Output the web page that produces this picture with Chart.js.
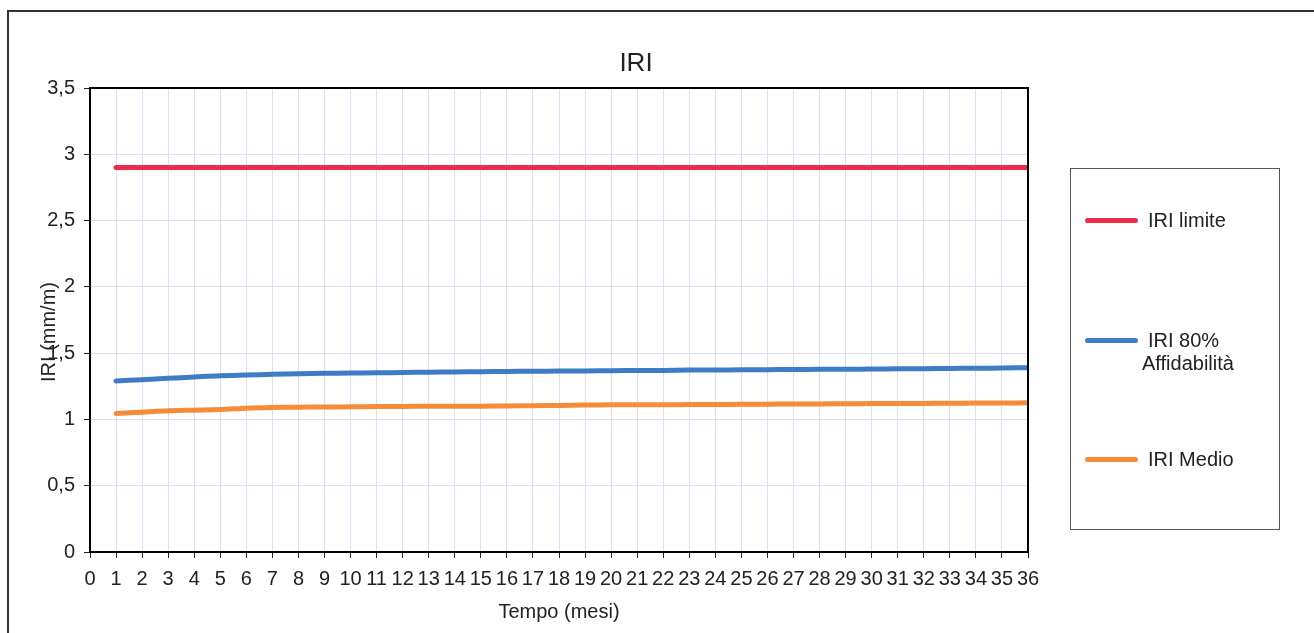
<!DOCTYPE html>
<html lang="it">
<head>
  <meta charset="UTF-8">
  <title>IRI</title>
  <style>
    body { margin: 0; background: #fff; font-family: "Liberation Sans", Arial, sans-serif; color: #222; }
    #wrap { position: relative; width: 1314px; height: 633px; overflow: hidden; }
    #frame { position: absolute; left: 7px; top: 10px; width: 1330px; height: 640px; border-left: 2px solid #333; border-top: 2px solid #333; }
    #grafico { position: absolute; left: 0; top: 0; }
    #legenda { position: absolute; left: 1070px; top: 168px; width: 210px; height: 362px; border: 1px solid #555; box-sizing: border-box; }
    .voce { position: absolute; left: 14px; display: flex; align-items: flex-start; font-size: 20px; line-height: 23px; }
    .campione { width: 53px; height: 5px; border-radius: 3px; margin-top: 9px; margin-right: 10px; }
    .testo span { display: block; }
    .testo span + span { margin-left: -6px; }
  </style>
  <script src="https://cdn.jsdelivr.net/npm/chart.js"></script>
</head>
<body>
  <div id="wrap">
    <div id="frame"></div>
    <canvas id="grafico" width="1314" height="633"></canvas>
    <div id="legenda"></div>
  </div>
  <script>
    // dati
    const mesi = [1,2,3,4,5,6,7,8,9,10,11,12,13,14,15,16,17,18,19,20,21,22,23,24,25,26,27,28,29,30,31,32,33,34,35,36];
    const iriLimite = [2.9,2.9,2.9,2.9,2.9,2.9,2.9,2.9,2.9,2.9,2.9,2.9,2.9,2.9,2.9,2.9,2.9,2.9,
                       2.9,2.9,2.9,2.9,2.9,2.9,2.9,2.9,2.9,2.9,2.9,2.9,2.9,2.9,2.9,2.9,2.9,2.9];
    const iri80 = [1.29,1.30,1.31,1.32,1.33,1.335,1.34,1.345,1.348,1.35,1.352,1.354,1.356,1.358,1.36,1.362,1.363,1.365,
                   1.366,1.368,1.369,1.37,1.372,1.373,1.374,1.375,1.377,1.378,1.379,1.38,1.382,1.383,1.385,1.386,1.388,1.39];
    const iriMedio = [1.045,1.055,1.065,1.07,1.075,1.085,1.09,1.092,1.094,1.095,1.097,1.098,1.099,1.1,1.1,1.102,1.104,1.106,
                      1.108,1.11,1.11,1.111,1.112,1.113,1.114,1.115,1.116,1.117,1.118,1.12,1.12,1.121,1.122,1.123,1.124,1.125];
    const serie = [
      { nome: ['IRI limite'], valori: iriLimite, colore: '#ec2d4a', yLegenda: 220 },
      { nome: ['IRI 80%', 'Affidabilità'], valori: iri80, colore: '#3f7cc8', yLegenda: 340 },
      { nome: ['IRI Medio'], valori: iriMedio, colore: '#f68c3a', yLegenda: 459 }
    ];

    const FONT = '"Liberation Sans", Arial, sans-serif';

    // titolo, bordo del riquadro e titolo asse Y sovrapposto alle etichette
    const extra = {
      id: 'extra',
      afterDraw(chart) {
        const ctx = chart.ctx, a = chart.chartArea;
        ctx.save();
        ctx.strokeStyle = '#000';
        ctx.lineWidth = 2;
        ctx.strokeRect(a.left, a.top, a.right - a.left, a.bottom - a.top);
        ctx.fillStyle = '#222';
        ctx.textAlign = 'center';
        ctx.textBaseline = 'middle';
        ctx.font = '26px ' + FONT;
        ctx.fillText('IRI', 636, 64);
        ctx.translate(49, 332);
        ctx.rotate(-Math.PI / 2);
        ctx.font = '20px ' + FONT;
        ctx.fillText('IRI (mm/m)', 0, 0);
        ctx.restore();
      }
    };

    const grafico = new Chart(document.getElementById('grafico'), {
      type: 'line',
      data: {
        datasets: serie.map(s => ({
          label: s.nome.join(' '),
          data: mesi.map((m, i) => ({ x: m, y: s.valori[i] })),
          borderColor: s.colore,
          backgroundColor: s.colore,
          borderWidth: 5,
          borderCapStyle: 'round',
          pointRadius: 0,
          tension: 0.3,
          fill: false
        }))
      },
      options: {
        responsive: false,
        animation: false,
        layout: { padding: { left: 0, top: 88, right: 286, bottom: 0 } },
        plugins: {
          legend: { display: false },
          tooltip: { enabled: false },
          title: { display: false }
        },
        scales: {
          x: {
            type: 'linear',
            min: 0, max: 36,
            afterFit: s => { s.height = 81; },
            ticks: { stepSize: 1, autoSkip: false, maxRotation: 0, padding: 9, color: '#222', font: { family: FONT, size: 20 } },
            grid: { color: '#dcdcf2', tickColor: '#222', tickLength: 6 },
            border: { color: '#111', width: 2 },
            title: { display: true, text: 'Tempo (mesi)', color: '#222', font: { family: FONT, size: 20 }, padding: { top: 0, bottom: 9 } }
          },
          y: {
            min: 0, max: 3.5,
            afterFit: s => { s.width = 90; },
            ticks: { stepSize: 0.5, padding: 9, color: '#222', font: { family: FONT, size: 20 },
                     callback: v => String(v).replace('.', ',') },
            grid: { color: '#e0e0f2', tickColor: '#222', tickLength: 6 },
            border: { color: '#000', width: 2 }
          }
        }
      },
      plugins: [extra]
    });

    // legenda a parte, costruita dalle serie
    const leg = document.getElementById('legenda');
    serie.forEach(s => {
      const v = document.createElement('div');
      v.className = 'voce';
      v.style.top = (s.yLegenda - 168 - 12) + 'px';
      const c = document.createElement('div');
      c.className = 'campione';
      c.style.background = s.colore;
      const t = document.createElement('div');
      t.className = 'testo';
      s.nome.forEach(r => {
        const sp = document.createElement('span');
        sp.textContent = r;
        t.appendChild(sp);
      });
      v.appendChild(c);
      v.appendChild(t);
      leg.appendChild(v);
    });
  </script>
</body>
</html>
